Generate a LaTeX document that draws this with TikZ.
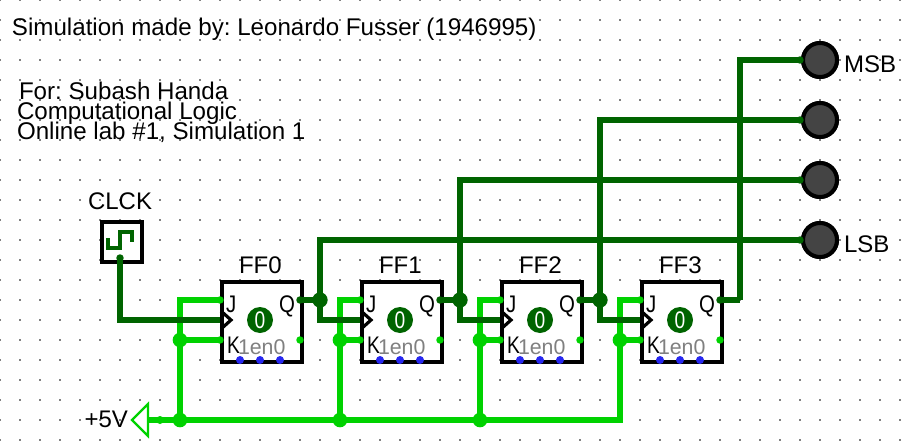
\documentclass[tikz,border=0pt]{standalone}
\usepackage{fontspec}
\setmainfont{Liberation Sans}
\definecolor{wdark}{RGB}{0,100,0}
\definecolor{wbright}{RGB}{0,210,0}
\definecolor{griddot}{RGB}{128,128,128}
\definecolor{ledfill}{RGB}{68,68,68}
\definecolor{portblue}{RGB}{40,40,240}
\tikzset{
  x=0.75pt,y=-0.75pt,
  txt/.style={inner sep=0pt,outer sep=0pt,anchor=base west,font=\fontsize{18}{18}\selectfont\frenchspacing,text=black},
  big/.style={txt,font=\fontsize{18.1}{18}\selectfont\frenchspacing},
  dk/.style={draw=wdark,line width=4.1pt,line join=miter},
  br/.style={draw=wbright,line width=4.1pt,line join=miter},
  ffbox/.style={draw=black,line width=3pt,fill=white,minimum width=60pt,minimum height=60pt,inner sep=0pt},
  led/.style={circle,draw=black,line width=3pt,fill=ledfill,minimum size=25.5pt,inner sep=0pt},
  dj/.style={circle,fill=wbright,minimum size=11pt,inner sep=0pt},
  kj/.style={circle,fill=wdark,minimum size=11.5pt,inner sep=0pt},
  pinb/.style={circle,fill=wbright,minimum size=5.6pt,inner sep=0pt},
  pink/.style={circle,fill=wdark,minimum size=5.6pt,inner sep=0pt},
  blue/.style={circle,fill=portblue,minimum size=6pt,inner sep=0pt},
  zero/.style={circle,fill=wdark,minimum size=19.5pt,inner sep=0pt,text=white,font=\fontsize{18}{18}\selectfont},
}
\begin{document}
\begin{tikzpicture}
\useasboundingbox (0,0) rectangle (914,443);
\fill[white] (0,0) rectangle (914,443);
% grid dots
\foreach \gx in {0,20,...,900}
  \foreach \gy in {0,20,...,440}
    \fill[griddot] (\gx-1,\gy-1) rectangle (\gx+1,\gy+1);
% texts
\node[big] (title) at (12,35) {Simulation made by: Leonardo Fusser (1946995)};
\node[big] (for) at (19,99) {For: Subash Handa};
\node[big] (course) at (17,119) {Computational Logic};
\node[big] (lab) at (17,139) {Online lab \#1, Simulation 1};
\node[txt] (clcklabel) at (88,209) {CLCK};
\node[txt,anchor=base east] (vlabel) at (128,427) {+5V};
\node[txt] (msb) at (844,72) {MSB};
\node[txt] (lsb) at (844,252) {LSB};
% flip-flops
\foreach \n/\fx in {0/220,1/360,2/500,3/640}{
  \node[ffbox,anchor=north west] (ff\n) at (\fx,280) {};
  \coordinate (j\n) at (\fx,300);
  \coordinate (c\n) at (\fx,320);
  \coordinate (k\n) at (\fx,340);
  \coordinate (q\n) at (\fx+80,300);
  \coordinate (nq\n) at (\fx+80,340);
  \node[txt] (ffl\n) at (\fx+19,273) {FF\n};
  \node[txt] (jl\n) at (\fx+6,312) {\scalebox{0.85}[1]{J}};
  \node[txt] (ql\n) at (\fx+59,312) {\scalebox{0.85}[1]{Q}};
  \node[txt,text=gray,font=\fontsize{16}{16}\selectfont] (en\n) at (\fx+18,354) {1en0};
  \node[txt] (kl\n) at (\fx+7,353) {\scalebox{0.8}[1]{K}};
  \node[zero] (st\n) at (\fx+40,320) {\scalebox{0.8}[1]{0}};
  \node[blue] (b\n a) at (\fx+20,360) {};
  \node[blue] (b\n b) at (\fx+40,360) {};
  \node[blue] (b\n c) at (\fx+60,360) {};
  \node[pinb] (pnq\n) at (nq\n) {};
}
% clock
\node[draw=black,line width=3pt,fill=white,minimum width=30pt,minimum height=30pt,inner sep=0pt,anchor=north west] (clck) at (100,220) {};
\draw[wdark,line width=3pt,line join=miter] (108,238) -- (108,248) -- (120,248) -- (120,232) -- (132,232) -- (132,242);
\coordinate (clkpin) at (120,258);
% LEDs
\node[led] (led3) at (820,60) {};
\node[led] (led2) at (820,120) {};
\node[led] (led1) at (820,180) {};
\node[led] (led0) at (820,240) {};
% +5V
\coordinate (ptip) at (132,420);
\coordinate (ptop) at (148,404);
\coordinate (pbot) at (148,436);
\coordinate (pbase) at (148,420);
\draw[wbright,line width=1.6pt,fill=white] (ptip) -- (ptop) -- (pbot) -- cycle;
% bright coordinates
\coordinate (r0) at (180,420);
\coordinate (r1) at (340,420);
\coordinate (r2) at (480,420);
\coordinate (r3) at (620,420);
\coordinate (m0) at (180,340);
\coordinate (m1) at (340,340);
\coordinate (m2) at (480,340);
\coordinate (m3) at (620,340);
\coordinate (t0) at (180,300);
\coordinate (t1) at (340,300);
\coordinate (t2) at (480,300);
\coordinate (t3) at (620,300);
% bright wires
\draw[br] (pbase) -- (r3) -- (t3) -- (j3);
\foreach \i in {0,1,2}{
  \draw[br] (r\i) -- (t\i) -- (j\i);
}
\foreach \i in {0,1,2,3}{
  \draw[br] (m\i) -- (k\i);
  \node[pinb] at (j\i) {};
  \node[pinb] at (k\i) {};
  \node[dj] (dm\i) at (m\i) {};
}
\foreach \i in {0,1,2}{\node[dj] (dr\i) at (r\i) {};}
\node[pinb,minimum size=6pt] at (160,420) {};
% dark wires
\coordinate (x0) at (320,300);
\coordinate (x1) at (460,300);
\coordinate (x2) at (600,300);
\coordinate (x3) at (740,300);
\draw[dk] (clkpin) |- (c0);
\draw[dk] (q0) -- (x0);
\draw[dk] (q1) -- (x1);
\draw[dk] (q2) -- (x2);
\draw[dk] (q3) -- (x3);
\draw[dk] (led0.center) -| (x0) |- (c1);
\draw[dk] (led1.center) -| (x1) |- (c2);
\draw[dk] (led2.center) -| (x2) |- (c3);
\draw[dk] (x3) |- (led3.center);
\foreach \i in {0,1,2}{\node[kj] (dx\i) at (x\i) {};}
\foreach \i in {0,1,2,3}{\node[pink] at (q\i) {};}
% clock arrows and LEDs on top of wires
\foreach \fx in {220,360,500,640}{
  \draw[black,line width=2.4pt] (\fx+1,311) -- (\fx+11,320) -- (\fx+1,329);
}
\node[led] at (led3) {};
\node[led] at (led2) {};
\node[led] at (led1) {};
\node[led] at (led0) {};
\foreach \yy in {60,120,180,240}{\node[pink] at (800,\yy) {};}
\node[pink] at (clkpin) {};
\end{tikzpicture}
\end{document}
